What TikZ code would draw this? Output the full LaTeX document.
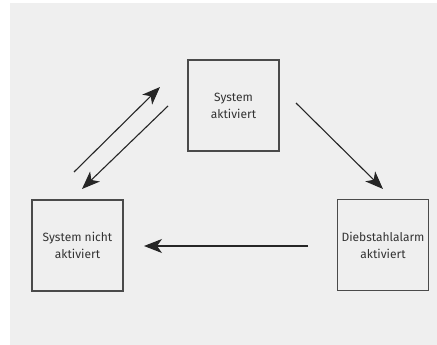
\documentclass[tikz,border=0pt]{standalone}
\usepackage{fontspec}
\setmainfont{Fira Sans}
\usetikzlibrary{arrows.meta}
\definecolor{bggray}{HTML}{EFEFEF}
\definecolor{boxline}{HTML}{4A4A4A}
\definecolor{txtgray}{HTML}{333333}

\begin{document}
\begin{tikzpicture}[x=1pt,y=-1pt,
  every node/.style={font=\fontsize{12}{17}\selectfont,text=txtgray},
  statebox/.style={draw=boxline,line width=1.2pt,minimum width=91pt,minimum height=91pt,align=center,inner sep=0pt},
  trans/.style={draw=black!85,line width=1.1pt,-{Stealth[length=18pt,width=14pt,inset=5pt]}}]
  \useasboundingbox (0,0) rectangle (437,345);
  \fill[bggray] (10,3) rectangle (437,345);
  % states
  \node[statebox] (aktiv) at (233.5,105.5) {System\\aktiviert};
  \node[statebox] (inaktiv) at (77.5,245.5) {System nicht\\aktiviert};
  \node[statebox] (alarm) at (383,245) {Diebstahlalarm\\aktiviert};
  % arrow ends
  \coordinate (a1) at (74,172);
  \coordinate (a2) at (160,87);
  \coordinate (b1) at (168,106);
  \coordinate (b2) at (82,189);
  \coordinate (c1) at (296,103);
  \coordinate (c2) at (383,189);
  \coordinate (d1) at (308,246);
  \coordinate (d2) at (144,246);
  \draw[trans] (a1) -- (a2);
  \draw[trans] (b1) -- (b2);
  \draw[trans] (c1) -- (c2);
  \draw[trans] (d1) -- (d2);
\end{tikzpicture}
\end{document}
